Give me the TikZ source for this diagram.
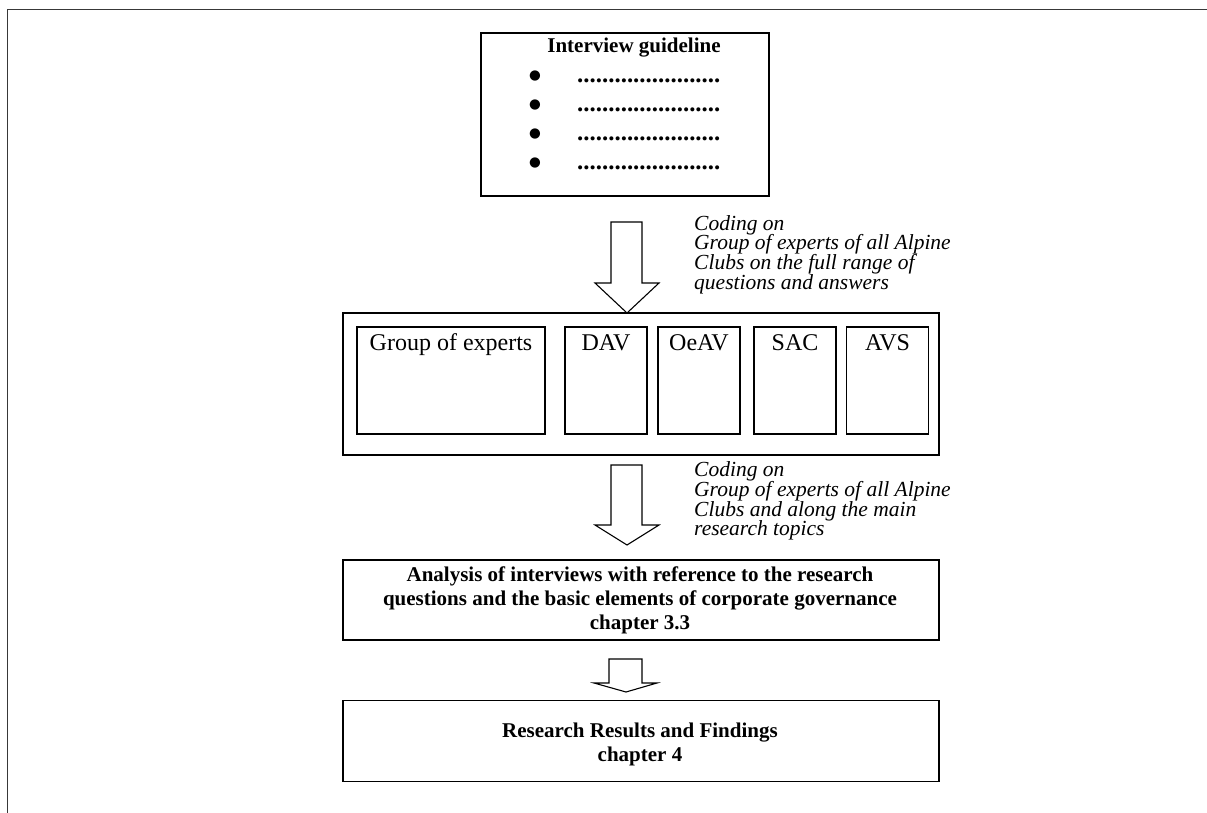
\documentclass[tikz,border=0pt]{standalone}
\usepackage{fontspec}
\setmainfont{Liberation Serif}
\newfontfamily\symbolfont{DejaVu Sans}
\begin{document}
\begin{tikzpicture}[x=1pt,y=-1pt,
  boxline/.style={draw=black,line width=1.2pt},
  blockarrow/.style={draw=black,line width=1.1pt,fill=white,line join=miter},
  frameline/.style={draw=black!78,line width=1.4pt},
  titletext/.style={font=\fontsize{21}{24}\selectfont\bfseries,inner sep=0pt},
  boldtext/.style={font=\fontsize{21}{24}\selectfont\bfseries,inner sep=0pt,align=center},
  labeltext/.style={font=\fontsize{24}{28}\selectfont,inner sep=0pt},
  notetext/.style={font=\fontsize{21.5}{19.8}\selectfont\itshape,inner sep=0pt,align=left,anchor=base west},
  bullettext/.style={font=\fontsize{13.5}{14}\symbolfont,inner sep=0pt,anchor=base},
  dottext/.style={font=\fontsize{24.9}{28}\selectfont\bfseries,inner sep=0pt,anchor=base west}]
\useasboundingbox (0,0) rectangle (1207,813);

% page frame (top and left edges)
\coordinate (frameBL) at (7.5,813);
\coordinate (frameTL) at (7.5,9.5);
\coordinate (frameTR) at (1207,9.5);
\draw[frameline] (frameBL) -- (frameTL) -- (frameTR);

% interview guideline box
\node[boxline,minimum width=288pt,minimum height=163pt,inner sep=0pt] (guide) at (625,114.5) {};
\node[titletext,anchor=base] (guidetitle) at (634,53) {Interview guideline};
\foreach \i/\yb/\yd in {1/80/83,2/109/112,3/138/141,4/167/170}{
  \node[bullettext] (bul\i) at (535,\yb) {●};
  \node[dottext] (dots\i) at (577,\yd) {.......................};
}

% arrow 1 and its note
\draw[blockarrow] (611,222) -- (642,222) -- (642,283) -- (659,283) -- (627,313)
  -- (595,283) -- (611,283) -- cycle;
\node[notetext] (note1) at (694,289.4) {Coding on\\Group of experts of all Alpine\\Clubs on the full range of\\questions and answers};

% container with the expert groups
\node[boxline,minimum width=596pt,minimum height=142pt,inner sep=0pt] (groups) at (641,384) {};
\node[boxline,minimum width=188pt,minimum height=107pt,inner sep=0pt] (experts) at (451,380.5) {};
\node[boxline,minimum width=82pt,minimum height=107pt,inner sep=0pt] (dav) at (606,380.5) {};
\node[boxline,minimum width=82pt,minimum height=107pt,inner sep=0pt] (oeav) at (699,380.5) {};
\node[boxline,minimum width=82pt,minimum height=107pt,inner sep=0pt] (sac) at (795,380.5) {};
\node[boxline,minimum width=82pt,minimum height=107pt,inner sep=0pt] (avs) at (887.5,380.5) {};
\node[labeltext,anchor=base] (expertslbl) at (451,350) {Group of experts};
\node[labeltext,anchor=base] (davlbl) at (606,350) {DAV};
\node[labeltext,anchor=base] (oeavlbl) at (699,350) {OeAV};
\node[labeltext,anchor=base] (saclbl) at (795,350) {SAC};
\node[labeltext,anchor=base] (avslbl) at (887.5,350) {AVS};

% arrow 2 and its note
\draw[blockarrow] (611,465) -- (642,465) -- (642,525) -- (659,525) -- (627,545)
  -- (595,525) -- (611,525) -- cycle;
\node[notetext] (note2) at (694,535.9) {Coding on\\Group of experts of all Alpine\\Clubs and along the main\\research topics};

% analysis box
\node[boxline,minimum width=596pt,minimum height=80pt,inner sep=0pt] (analysis) at (641,600) {};
\node[boldtext,anchor=base] (analysistxt) at (640,629) {Analysis of interviews with reference to the research\\questions and the basic elements of corporate governance\\chapter 3.3};

% arrow 3
\draw[blockarrow] (609,659) -- (642,659) -- (642,683) -- (657,683) -- (626,692)
  -- (594,683) -- (609,683) -- cycle;

% results box
\node[boxline,minimum width=596pt,minimum height=81pt,inner sep=0pt] (results) at (641,741) {};
\node[boldtext,anchor=base] (resultstxt) at (640,761.5) {Research Results and Findings\\chapter 4};
\end{tikzpicture}
\end{document}
